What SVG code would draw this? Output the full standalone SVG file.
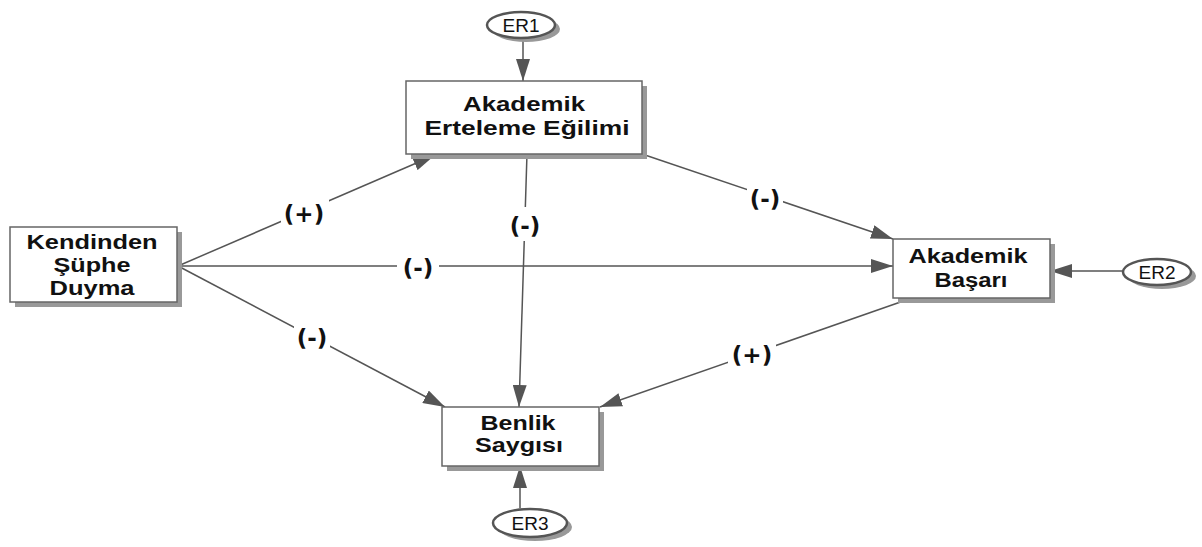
<svg xmlns="http://www.w3.org/2000/svg" width="1202" height="547" viewBox="0 0 1202 547">
<style>
.box{fill:#fff;stroke:#666;stroke-width:1.5}
.sh{fill:#999}
.t{font-family:"Liberation Sans",Arial,sans-serif;font-weight:bold;font-size:20px;fill:#111;text-anchor:middle}
.e{font-family:"Liberation Sans",Arial,sans-serif;font-size:19px;fill:#111;text-anchor:middle}
.lbl{font-family:"DejaVu Sans",sans-serif;font-weight:bold;font-size:23px;fill:#111;text-anchor:middle}
.c{stroke:#555;stroke-width:1.5;fill:none;marker-end:url(#ah)}
.ell{fill:#fff;stroke:#555;stroke-width:2.5}
</style>
<defs>
<marker id="ah" viewBox="0 0 22 14" refX="22" refY="7" markerWidth="22" markerHeight="14" markerUnits="userSpaceOnUse" orient="auto">
<path d="M0,0 L22,7 L0,14 Z" fill="#555"/>
</marker>
</defs>
<rect width="1202" height="547" fill="#fff"/>
<g id="connectors">
<line class="c" x1="523" y1="39" x2="523" y2="81"/>
<line class="c" x1="1123" y1="271" x2="1050" y2="271"/>
<line class="c" x1="520" y1="508" x2="520" y2="466"/>
<line class="c" x1="178" y1="266" x2="435" y2="155"/>
<line class="c" x1="178" y1="266" x2="893" y2="266"/>
<line class="c" x1="178" y1="266" x2="445" y2="407"/>
<line class="c" x1="642" y1="154" x2="893" y2="239"/>
<line class="c" x1="527" y1="154" x2="519" y2="407"/>
<line class="c" x1="912" y1="298" x2="600" y2="407"/>
<g>
<rect x="281" y="196" width="48" height="34" fill="#fff"/>
<text class="lbl" x="304" y="222">(+)</text>
<rect x="509" y="207" width="32" height="34" fill="#fff"/>
<text class="lbl" x="525" y="234">(-)</text>
<rect x="397" y="250" width="42" height="34" fill="#fff"/>
<text class="lbl" x="418" y="276">(-)</text>
<rect x="747" y="180" width="36" height="34" fill="#fff"/>
<text class="lbl" x="765" y="207">(-)</text>
<rect x="294" y="320" width="36" height="34" fill="#fff"/>
<text class="lbl" x="312" y="346">(-)</text>
<rect x="728" y="337" width="48" height="34" fill="#fff"/>
<text class="lbl" x="752" y="363">(+)</text>
</g>
</g>
<g id="AEE">
<rect class="sh" x="411" y="86" width="236" height="73"/>
<rect class="box" x="406" y="81" width="236" height="73"/>
<text class="t" x="524" y="111" textLength="122" lengthAdjust="spacingAndGlyphs">Akademik</text>
<text class="t" x="527" y="135" textLength="205" lengthAdjust="spacingAndGlyphs">Erteleme Eğilimi</text>
</g>
<g id="KSD">
<rect class="sh" x="15" y="232" width="167" height="75"/>
<rect class="box" x="10" y="227" width="167" height="75"/>
<text class="t" x="92" y="249" textLength="131" lengthAdjust="spacingAndGlyphs">Kendinden</text>
<text class="t" x="92" y="272" textLength="77" lengthAdjust="spacingAndGlyphs">Şüphe</text>
<text class="t" x="92" y="295" textLength="85" lengthAdjust="spacingAndGlyphs">Duyma</text>
</g>
<g id="AB">
<rect class="sh" x="898" y="244" width="157" height="59"/>
<rect class="box" x="893" y="239" width="157" height="59"/>
<text class="t" x="968" y="263" textLength="119" lengthAdjust="spacingAndGlyphs">Akademik</text>
<text class="t" x="971" y="287" textLength="73" lengthAdjust="spacingAndGlyphs">Başarı</text>
</g>
<g id="BS">
<rect class="sh" x="447" y="412" width="157" height="59"/>
<rect class="box" x="442" y="407" width="157" height="59"/>
<text class="t" x="518" y="430" textLength="75" lengthAdjust="spacingAndGlyphs">Benlik</text>
<text class="t" x="519" y="452" textLength="88" lengthAdjust="spacingAndGlyphs">Saygısı</text>
</g>
<g id="ER1">
<ellipse class="sh" cx="526" cy="29" rx="34" ry="13"/>
<ellipse class="ell" cx="521" cy="25" rx="34" ry="13"/>
<text class="e" x="521" y="32">ER1</text>
</g>
<g id="ER2">
<ellipse class="sh" cx="1162" cy="276" rx="34" ry="13"/>
<ellipse class="ell" cx="1157" cy="272" rx="34" ry="13"/>
<text class="e" x="1157" y="279">ER2</text>
</g>
<g id="ER3">
<ellipse class="sh" cx="535" cy="527" rx="37" ry="14"/>
<ellipse class="ell" cx="530" cy="523" rx="37" ry="14"/>
<text class="e" x="530" y="530">ER3</text>
</g>
</svg>
